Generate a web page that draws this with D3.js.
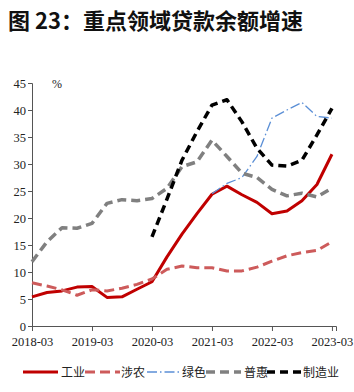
<!DOCTYPE html>
<html>
<head>
<meta charset="utf-8">
<script src="https://cdn.jsdelivr.net/npm/d3@7"></script>
<style>
  body { margin: 0; background: #fff; }
</style>
</head>
<body>
<div id="chart"></div>
<script>
// quarterly data, 2018-03 .. 2023-03
const quarters = ["2018-03","2018-06","2018-09","2018-12","2019-03","2019-06","2019-09","2019-12",
  "2020-03","2020-06","2020-09","2020-12","2021-03","2021-06","2021-09","2021-12",
  "2022-03","2022-06","2022-09","2022-12","2023-03"];
const xTickLabels = ["2018-03","2019-03","2020-03","2021-03","2022-03","2023-03"];
const yTicks = [0,5,10,15,20,25,30,35,40,45];

const industry = [5.4,6.2,6.5,7.2,7.3,5.3,5.4,6.8,8.2,12.8,17.0,20.8,24.4,25.9,24.3,22.9,20.8,21.3,23.2,26.2,31.8];
const agri = [8.0,7.4,6.7,5.7,6.7,6.5,7.0,7.7,8.7,10.5,11.1,10.8,10.8,10.2,10.2,10.9,12.0,13.0,13.6,14.0,15.6];
const green = [null,null,null,null,null,null,null,null,null,null,null,null,24.5,26.4,27.5,31.4,38.5,40.0,41.4,38.8,38.5];
const inclusive = [11.9,15.6,18.2,18.1,19.0,22.7,23.4,23.2,23.6,25.5,29.5,30.4,34.4,31.4,28.3,27.5,25.3,24.1,24.6,23.9,25.5];
const manufacturing = [null,null,null,null,null,null,null,null,16.5,23.5,30.7,36.0,40.9,41.9,37.8,32.9,29.8,29.6,30.7,35.4,40.3];

const seriesNames = ["工业","涉农","绿色","普惠","制造业"];
const seriesValues = [industry, agri, green, inclusive, manufacturing];
const styles = [
  {color: "#c00000", width: 3, dash: null},
  {color: "#cd5b5b", width: 3, dash: "10,5"},
  {color: "#5b8fd6", width: 1.3, dash: "10,3,1.5,3"},
  {color: "#808080", width: 3.5, dash: "9,5"},
  {color: "#000000", width: 3.5, dash: "8,5"}
];

const W = 354, H = 392;
const svg = d3.select("#chart").append("svg")
  .attr("width", W).attr("height", H);

// title
svg.append("text")
  .attr("x", 8).attr("y", 29)
  .attr("font-family", "'Noto Sans CJK SC', sans-serif")
  .attr("font-weight", "bold")
  .attr("font-size", 22)
  .attr("fill", "#111")
  .text("图 23：重点领域贷款余额增速");

const x = d3.scaleLinear().domain([0, 20.27]).range([32, 336]);
const y = d3.scaleLinear().domain([0, 45]).range([326, 83]);

// axes
const xAxis = svg.append("g")
  .attr("transform", "translate(0," + y(0) + ")")
  .call(d3.axisBottom(x)
    .tickValues(xTickLabels.map(l => quarters.indexOf(l)))
    .tickFormat(i => quarters[i])
    .tickSizeOuter(0)
    .tickSize(5)
    .tickPadding(6));
xAxis.selectAll("path, line").attr("stroke", "#555");

const yAxis = svg.append("g")
  .attr("transform", "translate(" + x(0) + ",0)")
  .call(d3.axisLeft(y)
    .tickValues(yTicks)
    .tickSizeOuter(0)
    .tickSize(4)
    .tickPadding(2));
yAxis.selectAll("path, line").attr("stroke", "#555");

svg.selectAll(".tick text")
  .attr("font-family", "'Liberation Serif', 'DejaVu Serif', serif")
  .attr("font-size", 12.5)
  .attr("fill", "#222");

svg.append("text")
  .attr("x", 52).attr("y", 88)
  .attr("font-family", "'Liberation Serif', serif")
  .attr("font-size", 12)
  .attr("fill", "#222")
  .text("%");

// lines
const line = d3.line()
  .defined(d => d != null)
  .x((d, i) => x(i))
  .y(d => y(d));

seriesValues.forEach(function (vals, k) {
  svg.append("path")
    .datum(vals)
    .attr("fill", "none")
    .attr("stroke", styles[k].color)
    .attr("stroke-width", styles[k].width)
    .attr("stroke-dasharray", styles[k].dash)
    .attr("stroke-linejoin", "round")
    .attr("d", line);
});

// legend
const legendPos = [
  {lx: 23, tx: 61},
  {lx: 85, tx: 121},
  {lx: 147, tx: 182},
  {lx: 206, tx: 244},
  {lx: 267, tx: 303}
];
const legend = svg.append("g");
seriesNames.forEach(function (name, k) {
  const p = legendPos[k];
  legend.append("line")
    .attr("x1", p.lx).attr("x2", p.lx + 35)
    .attr("y1", 372).attr("y2", 372)
    .attr("stroke", styles[k].color)
    .attr("stroke-width", styles[k].width)
    .attr("stroke-dasharray", styles[k].dash);
  legend.append("text")
    .attr("x", p.tx).attr("y", 377)
    .attr("font-family", "'Noto Sans CJK SC', sans-serif")
    .attr("font-size", 12)
    .attr("fill", "#222")
    .text(name);
});
</script>
</body>
</html>
